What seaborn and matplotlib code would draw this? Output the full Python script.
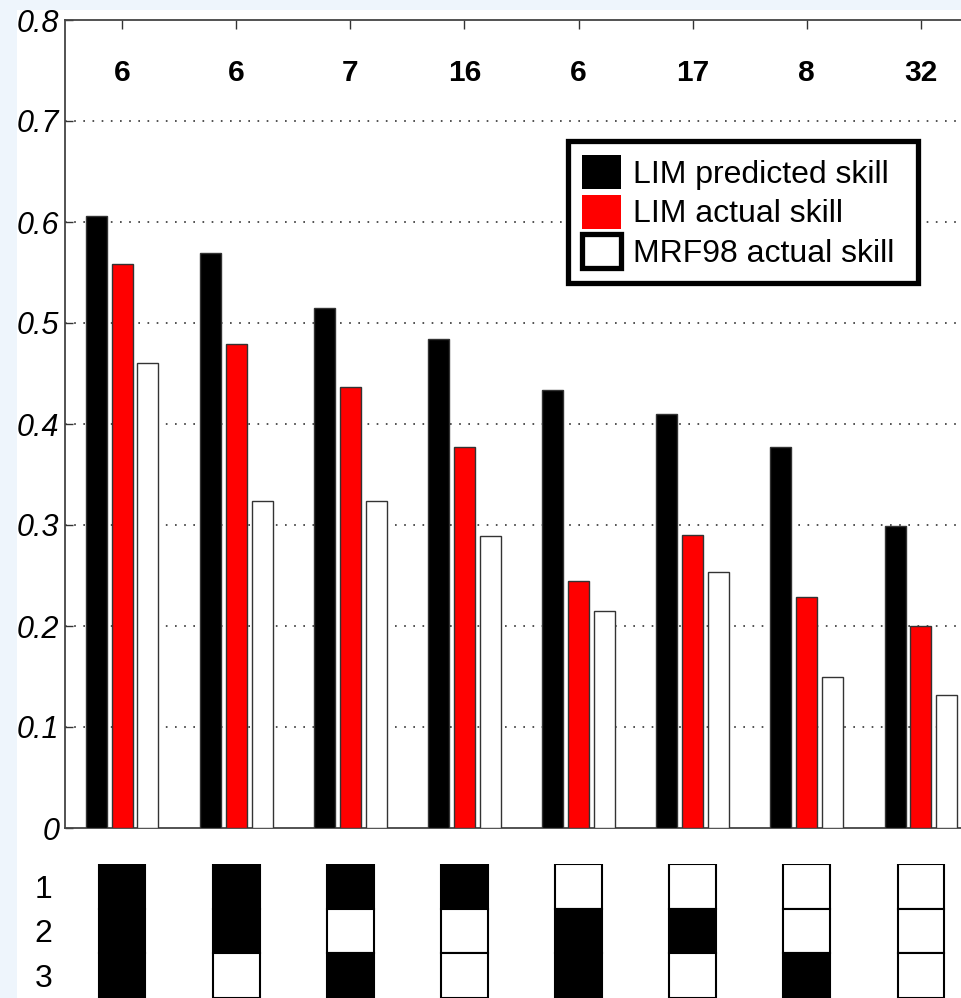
import numpy as np
import pandas as pd
import matplotlib
matplotlib.use("Agg")
import matplotlib.pyplot as plt
from matplotlib.patches import Patch, Rectangle
import seaborn as sns

# ---- data ----
groups = ["1", "2", "3", "4", "5", "6", "7", "8"]
case_counts = [6, 6, 7, 16, 6, 17, 8, 32]
lim_predicted = [0.606, 0.569, 0.515, 0.484, 0.434, 0.410, 0.377, 0.299]
lim_actual = [0.558, 0.479, 0.437, 0.377, 0.245, 0.290, 0.229, 0.200]
mrf98_actual = [0.460, 0.324, 0.324, 0.289, 0.215, 0.253, 0.150, 0.132]
series_names = ["LIM predicted skill", "LIM actual skill", "MRF98 actual skill"]
series_colors = ["#000000", "#ff0000", "#ffffff"]
# which of the three fields are included in each grouping (1 = included)
row_labels = ["1", "2", "3"]
membership = [
    [1, 1, 1, 1, 0, 0, 0, 0],
    [1, 1, 0, 0, 1, 1, 0, 0],
    [1, 0, 1, 0, 1, 0, 1, 0],
]
yticks = [0, 0.1, 0.2, 0.3, 0.4, 0.5, 0.6, 0.7, 0.8]
ytick_labels = ["0", "0.1", "0.2", "0.3", "0.4", "0.5", "0.6", "0.7", "0.8"]

df = pd.DataFrame({
    "group": groups * 3,
    "skill": lim_predicted + lim_actual + mrf98_actual,
    "series": sum([[s] * len(groups) for s in series_names], []),
})

sns.set_style("white")
plt.rcParams["font.family"] = ["Liberation Sans", "DejaVu Sans"]
plt.rcParams["text.color"] = "black"
plt.rcParams["xtick.color"] = "black"
plt.rcParams["ytick.color"] = "black"

W, H = 962, 998
fig = plt.figure(figsize=(W / 100, H / 100), dpi=100, facecolor="#eef5fc")
fig.patches.append(Rectangle((17 / W, 0), 1 - 17 / W, 1 - 10 / H,
                             transform=fig.transFigure, facecolor="white",
                             edgecolor="none", zorder=-10))

x0, x1 = 65, 978
ax = fig.add_axes([x0 / W, (H - 828) / H, (x1 - x0) / W, (828 - 20) / H])
ax.set_facecolor("white")

sns.barplot(data=df, x="group", y="skill", hue="series", order=groups,
            hue_order=series_names, palette=series_colors, saturation=1,
            width=0.68, gap=0.19, edgecolor="#333333", linewidth=1.0,
            errorbar=None, legend=False, ax=ax, zorder=3)

ax.set_xlim(-0.5, len(groups) - 0.5)
ax.set_ylim(0, 0.8)
ax.set_yticks(yticks)
ax.set_yticklabels(ytick_labels, fontsize=22, style="italic", color="black")
ax.set_xlabel("")
ax.set_ylabel("")
ax.set_xticks(range(len(groups)))
ax.tick_params(axis="x", which="both", bottom=False, top=True, labelbottom=False,
               direction="in", length=6.5, width=1, color="#333333")
ax.tick_params(axis="y", left=True, direction="in", length=6, width=1,
               color="#333333", pad=4)

for y in yticks[1:-1]:
    ax.axhline(y, color="#333333", lw=1.2, ls=(0, (1, 4.5)), zorder=1)

for side in ["left", "top", "bottom"]:
    ax.spines[side].set_color("#444444")
    ax.spines[side].set_linewidth(1.3)
ax.spines["right"].set_visible(False)

for i, n in enumerate(case_counts):
    ax.text(i, 0.748, str(n), ha="center", va="center", fontsize=21.5,
            fontweight="bold", color="black")

handles = [
    Patch(facecolor="#000000", edgecolor="#000000", linewidth=0),
    Patch(facecolor="#ff0000", edgecolor="#ff0000", linewidth=0),
    Patch(facecolor="#ffffff", edgecolor="#000000", linewidth=3.8),
]
lx = (568 - x0) / (x1 - x0)
lw_ = (918 - 568) / (x1 - x0)
ly = 1 - (141 - 20) / 808
leg = ax.legend(handles, series_names, loc="upper left",
                bbox_to_anchor=(lx, ly, lw_, 0), mode="expand",
                fontsize=23, frameon=True, fancybox=False, framealpha=1,
                edgecolor="black", handlelength=1.22, handleheight=1.25,
                handletextpad=0.35, labelspacing=0.15, borderpad=0.45,
                borderaxespad=0)
leg.get_frame().set_linewidth(3.8)
for t in leg.get_texts():
    t.set_color("black")

# membership panel below the bars
bx = fig.add_axes([x0 / W, 0, (x1 - x0) / W, (H - 864) / H])
bx.set_facecolor("none")
for r, row in enumerate(membership):
    for i, on in enumerate(row):
        bx.bar(i, 1, bottom=r + 0.5, width=0.41,
               color="black" if on else "white", edgecolor="black",
               linewidth=1.5)
bx.set_xlim(-0.5, len(groups) - 0.5)
bx.set_ylim(3.5, 0.5)
bx.set_yticks([1, 2, 3])
bx.set_yticklabels(row_labels, fontsize=23, color="black")
bx.tick_params(axis="y", length=0, pad=9)
bx.set_xticks([])
for s in bx.spines.values():
    s.set_visible(False)

fig.savefig("out.png", dpi=100, facecolor=fig.get_facecolor())
